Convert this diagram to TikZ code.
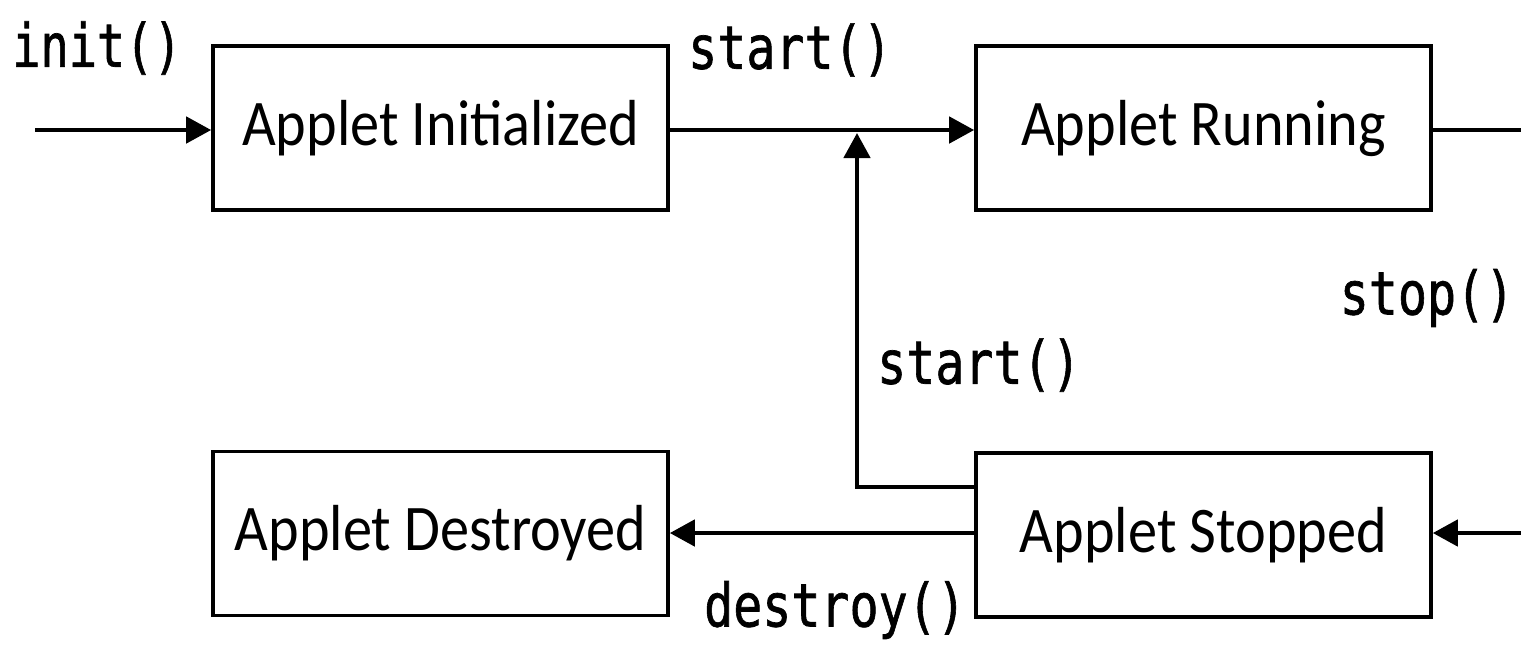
\documentclass[tikz,border=0pt]{standalone}
\usepackage{fontspec}
\setmainfont{Carlito}
\newfontfamily\labfont[FakeBold=1.2]{DejaVu Sans Mono}
\usetikzlibrary{arrows.meta}
\begin{document}
\begin{tikzpicture}[x=0.5pt,y=-0.5pt,
  state/.style={draw,line width=1.8pt,minimum width=227.5pt,minimum height=82pt,inner sep=0pt,
    font=\fontsize{31}{34}\selectfont},
  flow/.style={line width=2.3pt,-{Triangle[length=12.5pt,width=13pt]}},
  plain/.style={line width=2.3pt},
  lab/.style={inner sep=0pt,font=\labfont\fontsize{23}{26}\selectfont}]
\useasboundingbox (0,0) rectangle (1521,645);
\node[state] (ini) at (440.5,128) {\scalebox{0.94}[1.05]{Applet Initialized}};
\node[state] (run) at (1203.5,128) {\scalebox{0.94}[1.05]{Applet Running}};
\node[state] (des) at (440.5,533.5) {\scalebox{0.94}[1.05]{Applet Destroyed}};
\node[state] (sto) at (1203.5,535) {\scalebox{0.94}[1.05]{Applet Stopped}};
\coordinate (in) at (35,130);
\coordinate (re) at (1521,130);
\coordinate (se) at (1521,533);
\coordinate (lp) at (975,487);
\coordinate (jn) at (857,133);
\draw[flow] (in) -- (in -| ini.west);
\draw[flow] (ini.east |- 0,130) -- (run.west |- 0,130);
\draw[plain] (run.east |- re) -- (re);
\draw[flow] (se) -- (sto.east |- se);
\draw[flow] (sto.west |- se) -- (des.east |- se);
\draw[flow] (lp) -| (jn);
\node[lab] (l1) at (97,48) {\scalebox{1.02}[1.3]{init()}};
\node[lab] (l2) at (790,50) {\scalebox{1.05}[1.3]{start()}};
\node[lab] (l3) at (1427,298) {\scalebox{1.05}[1.3]{stop()}};
\node[lab] (l4) at (979,365) {\scalebox{1.05}[1.3]{start()}};
\node[lab] (l5) at (835,610) {\scalebox{1.05}[1.3]{destroy()}};
\end{tikzpicture}
\end{document}
